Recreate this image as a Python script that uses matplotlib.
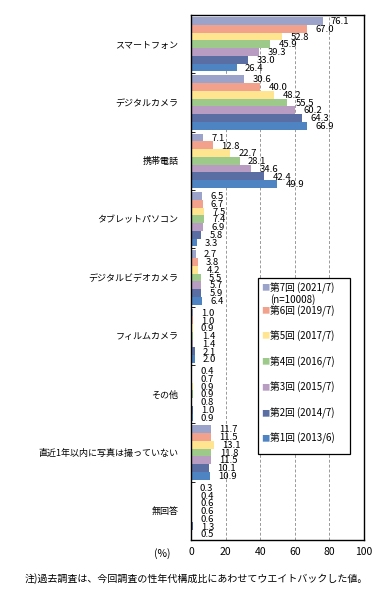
import matplotlib.pyplot as plt
import numpy as np
from matplotlib.patches import Rectangle

plt.rcParams['font.family'] = ['Noto Sans CJK JP', 'DejaVu Sans']

categories = ['スマートフォン', 'デジタルカメラ', '携帯電話', 'タブレットパソコン',
              'デジタルビデオカメラ', 'フィルムカメラ', 'その他',
              '直近1年以内に写真は撮っていない', '無回答']

series_names = ['第7回 (2021/7)', '第6回 (2019/7)', '第5回 (2017/7)', '第4回 (2016/7)',
                '第3回 (2015/7)', '第2回 (2014/7)', '第1回 (2013/6)']
colors = ['#9BA3CB', '#F2A18C', '#FFE590', '#9DCA8B', '#B99CC1', '#5A6EA3', '#4F84C2']

r7 = [76.1, 30.6, 7.1, 6.5, 2.7, 1.0, 0.4, 11.7, 0.3]
r6 = [67.0, 40.0, 12.8, 6.7, 3.8, 1.0, 0.7, 11.5, 0.4]
r5 = [52.8, 48.2, 22.7, 7.5, 4.2, 0.9, 0.9, 13.1, 0.6]
r4 = [45.9, 55.5, 28.1, 7.4, 5.5, 1.4, 0.9, 11.8, 0.6]
r3 = [39.3, 60.2, 34.6, 6.9, 5.7, 1.4, 0.8, 11.5, 0.6]
r2 = [33.0, 64.3, 42.4, 5.8, 5.9, 2.1, 1.0, 10.1, 1.3]
r1 = [26.4, 66.9, 49.9, 3.3, 6.4, 2.0, 0.9, 10.9, 0.5]
series = [r7, r6, r5, r4, r3, r2, r1]

fig = plt.figure(figsize=(3.86, 5.95), dpi=100)
ax = fig.add_axes([0.495, 0.0924, 0.448, 0.8824])

y = np.arange(len(categories))
h = 0.133
for j, vals in enumerate(series):
    pos = y + (j - 3) * h
    ax.barh(pos, vals, height=h, color=colors[j], zorder=2)
    for p, v in zip(pos, vals):
        ax.annotate(f'{v:.1f}', (v, p), xytext=(6, -0.5), textcoords='offset points',
                    ha='left', va='center', fontsize=6.8, zorder=3)

ax.set_xlim(0, 100)
ax.set_ylim(len(categories) - 0.5, -0.5)
ax.set_xticks([0, 20, 40, 60, 80, 100])
ax.set_xticklabels(['0', '20', '40', '60', '80', '100'], fontsize=7.5)
ax.tick_params(axis='x', length=0, pad=5)
ax.set_yticks(y)
ax.set_yticklabels(categories, fontsize=6.5)
ax.tick_params(axis='y', length=0, pad=9)
ax.set_yticks(np.arange(len(categories) + 1) - 0.5, minor=True)
ax.tick_params(axis='y', which='minor', length=3, direction='in')
ax.xaxis.grid(True, color='#999999', linestyle=(0, (3, 2)), linewidth=0.7, zorder=0)
for s in ax.spines.values():
    s.set_linewidth(1.0)
    s.set_color('black')

ax.text(-0.12, -0.026, '(%)', transform=ax.transAxes, ha='right', va='center', fontsize=7.5)
ax.text(-0.965, -0.073, '注)過去調査は、今回調査の性年代構成比にあわせてウエイトバックした値。',
        transform=ax.transAxes, ha='left', va='center', fontsize=7.2)

# legend box drawn by hand to match Excel spacing
ax.add_patch(Rectangle((0.387, 0.164), 0.53, 0.335, transform=ax.transAxes,
                       facecolor='white', edgecolor='black', linewidth=0.9, zorder=4))
leg_y = [0.480, 0.436, 0.388, 0.339, 0.290, 0.241, 0.193]
for j, name in enumerate(series_names):
    ax.text(0.405, leg_y[j], '■', color=colors[j], transform=ax.transAxes,
            ha='left', va='center', fontsize=6, zorder=5)
    ax.text(0.455, leg_y[j], name, transform=ax.transAxes,
            ha='left', va='center', fontsize=7, zorder=5)
ax.text(0.455, 0.458, '(n=10008)', transform=ax.transAxes,
        ha='left', va='center', fontsize=7, zorder=5)

fig.savefig('out.png', dpi=100)
